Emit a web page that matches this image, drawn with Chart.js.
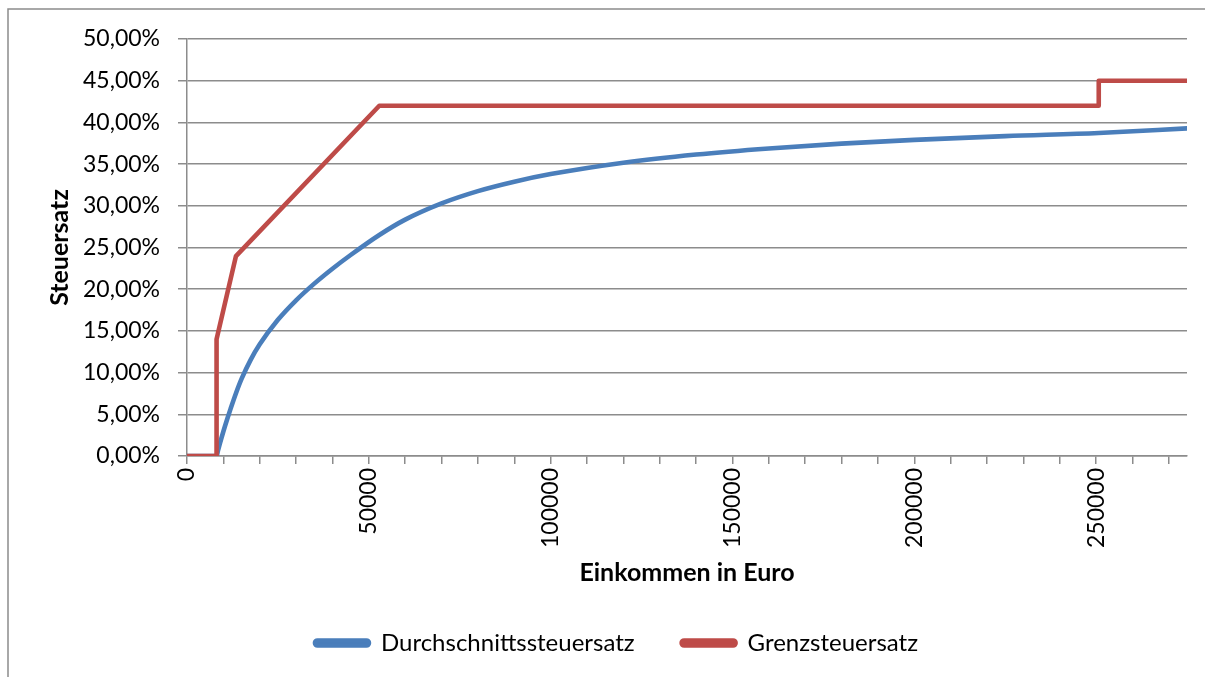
<!DOCTYPE html>
<html>
<head>
<meta charset="utf-8">
<script src="https://cdn.jsdelivr.net/npm/chart.js@4"></script>
<style>
  html, body { margin: 0; padding: 0; background: #ffffff; }
  #wrap { position: relative; width: 1205px; height: 677px; }
</style>
</head>
<body>
<div id="wrap"><canvas id="c" width="1205" height="677"></canvas></div>
<script>
// Durchschnittssteuersatz (average tax rate)
const avgIncome = [0, 8130, 8500, 9000, 10000, 11000, 12000, 13469, 15000, 17500, 20000, 25000, 30000, 35000, 40000, 45000, 52881, 60000, 70000, 80000, 90000, 100000, 120000, 140000, 160000, 180000, 200000, 225000, 250730, 275000];
const avgRate   = [0, 0, 0.62, 1.43, 2.94, 4.35, 5.68, 7.53, 9.24, 11.53, 13.39, 16.33, 18.67, 20.67, 22.46, 24.10, 26.50, 28.34, 30.29, 31.76, 32.89, 33.80, 35.17, 36.15, 36.88, 37.45, 37.90, 38.36, 38.73, 39.28];

// Grenzsteuersatz (marginal tax rate)
const margIncome = [0, 8130, 8130, 13469, 52881, 250730, 250730, 275000];
const margRate   = [0, 0, 14, 23.97, 42, 42, 45, 45];

const seriesNames = ['Durchschnittssteuersatz', 'Grenzsteuersatz'];
const yTicks = [0, 5, 10, 15, 20, 25, 30, 35, 40, 45, 50];
const xTicks = [0, 10000, 20000, 30000, 40000, 50000, 60000, 70000, 80000, 90000, 100000, 110000, 120000, 130000, 140000, 150000, 160000, 170000, 180000, 190000, 200000, 210000, 220000, 230000, 240000, 250000, 260000, 270000];
const xTickLabels = ['0', '50000', '100000', '150000', '200000', '250000'];

const toPts = (xs, ys) => xs.map((x, i) => ({ x: x, y: ys[i] }));

const FONT = 'Lato, Carlito, Calibri, "Open Sans", sans-serif';
const GRID = '#8c8c8c';
const PAD_LEFT = 46;

const framePlugin = {
  id: 'frame',
  beforeDraw(chart) {
    const ctx = chart.ctx;
    ctx.save();
    ctx.strokeStyle = '#8c8c8c';
    ctx.lineWidth = 1.5;
    ctx.beginPath();
    ctx.moveTo(8, 677);
    ctx.lineTo(8, 9);
    ctx.lineTo(1205, 9);
    ctx.stroke();
    ctx.restore();
  }
};

new Chart(document.getElementById('c'), {
  type: 'line',
  data: {
    datasets: [
      {
        label: seriesNames[0],
        data: toPts(avgIncome, avgRate),
        borderColor: '#4A7EBB',
        backgroundColor: '#4A7EBB',
        borderWidth: 4.6,
        pointRadius: 0,
        cubicInterpolationMode: 'monotone',
        borderCapStyle: 'round',
        borderJoinStyle: 'round',
        order: 2
      },
      {
        label: seriesNames[1],
        data: toPts(margIncome, margRate),
        borderColor: '#BE4B48',
        backgroundColor: '#BE4B48',
        borderWidth: 4.6,
        pointRadius: 0,
        tension: 0,
        borderCapStyle: 'round',
        borderJoinStyle: 'round',
        order: 1
      }
    ]
  },
  options: {
    responsive: false,
    animation: false,
    events: [],
    layout: { padding: { left: PAD_LEFT, top: 39, right: 18, bottom: 12 } },
    plugins: {
      legend: {
        display: true,
        position: 'bottom',
        labels: {
          font: { family: FONT, size: 24 },
          color: '#000000',
          boxWidth: 54,
          boxHeight: 5,
          padding: 47,
          useBorderRadius: true,
          borderRadius: 2.5,
          sort: (a, b) => a.datasetIndex - b.datasetIndex
        }
      },
      tooltip: { enabled: false }
    },
    scales: {
      x: {
        type: 'linear',
        min: 0,
        max: 275000,
        afterFit(scale) { scale.height = 128; },
        afterBuildTicks(scale) {
          scale.ticks = xTicks.map(v => ({ value: v }));
        },
        ticks: {
          autoSkip: false,
          minRotation: 90,
          maxRotation: 90,
          padding: 4,
          color: '#000000',
          font: { family: FONT, size: 23 },
          callback: (v) => (xTickLabels.includes(String(v)) ? String(v) : '')
        },
        grid: {
          drawOnChartArea: false,
          drawTicks: true,
          tickLength: 8,
          color: GRID,
          lineWidth: 1.5
        },
        border: { display: true, color: GRID, width: 1.5 },
        title: {
          display: true,
          text: 'Einkommen in Euro',
          color: '#000000',
          font: { family: FONT, size: 25, weight: 'bold' },
          padding: { top: 0, bottom: -4 }
        }
      },
      y: {
        type: 'linear',
        min: 0,
        max: 50,
        afterFit(scale) { scale.width = 187 - PAD_LEFT; },
        afterBuildTicks(scale) {
          scale.ticks = yTicks.map(v => ({ value: v }));
        },
        ticks: {
          padding: 18,
          color: '#000000',
          font: { family: FONT, size: 23 },
          callback: (v) => v.toFixed(2).replace('.', ',') + '%'
        },
        grid: {
          drawOnChartArea: true,
          drawTicks: true,
          tickLength: 9,
          color: GRID,
          lineWidth: 1.5
        },
        border: { display: true, color: GRID, width: 1.5 },
        title: {
          display: true,
          text: 'Steuersatz',
          color: '#000000',
          font: { family: FONT, size: 25, weight: 'bold' },
          padding: { top: 45 - PAD_LEFT, bottom: 0 }
        }
      }
    }
  },
  plugins: [framePlugin]
});
</script>
</body>
</html>
